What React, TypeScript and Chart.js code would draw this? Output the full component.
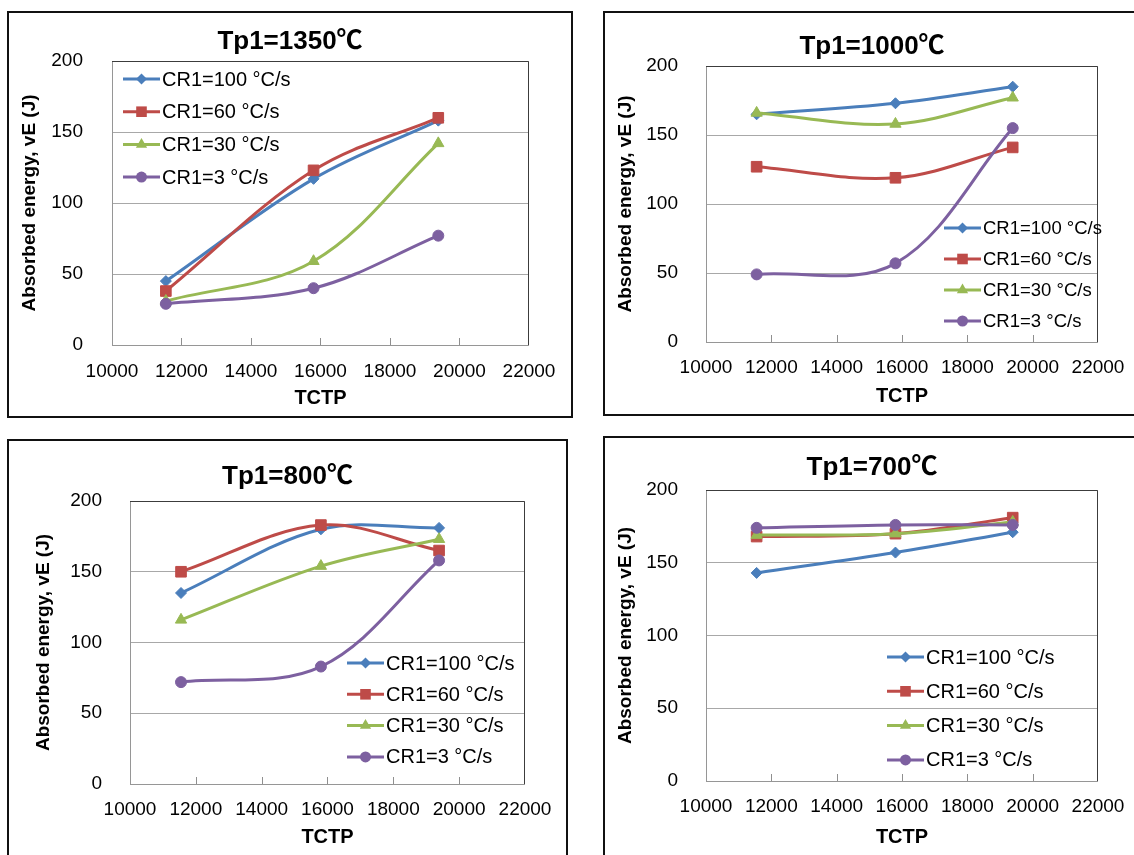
import React, { useEffect, useRef } from 'react';
import { Chart, registerables } from 'chart.js';

Chart.register(...registerables);

const FONT = "'Liberation Sans', Arial, 'Noto Sans CJK SC', sans-serif";

// ---- data ----
const TCTP = [11550, 15800, 19390];
const SERIES_LABELS = ['CR1=100 °C/s', 'CR1=60 °C/s', 'CR1=30 °C/s', 'CR1=3 °C/s'];
const X_MIN = 10000;
const X_MAX = 22000;
const X_STEP = 2000;
const Y_MIN = 0;
const Y_MAX = 200;
const Y_STEP = 50;

const TITLE_1350 = 'Tp1=1350℃';
const V1350_CR100 = [45, 117, 158];
const V1350_CR60 = [38, 123, 160];
const V1350_CR30 = [31, 59, 142];
const V1350_CR3 = [29, 40, 77];

const TITLE_1000 = 'Tp1=1000℃';
const V1000_CR100 = [165, 173, 185];
const V1000_CR60 = [127, 119, 141];
const V1000_CR30 = [166, 158, 177];
const V1000_CR3 = [49, 57, 155];

const TITLE_800 = 'Tp1=800℃';
const V800_CR100 = [135, 180, 181];
const V800_CR60 = [150, 183, 165];
const V800_CR30 = [116, 154, 173];
const V800_CR3 = [72, 83, 158];

const TITLE_700 = 'Tp1=700℃';
const V700_CR100 = [143, 157, 171];
const V700_CR60 = [168, 170, 181];
const V700_CR30 = [169, 170, 178];
const V700_CR3 = [174, 176, 176];

const Y_TITLE = 'Absorbed energy, vE (J)';
const X_TITLE = 'TCTP';

// ---- styles ----
const COLORS = ['#4A7EBB', '#BE4B48', '#98B954', '#7D60A0'];
const POINT_STYLES = ['rectRot', 'rect', 'triangle', 'circle'];
const POINT_RADII = [5.5, 7.5, 6.5, 5.5];

function drawMarker(ctx: CanvasRenderingContext2D, style: string, x: number, y: number, r: number, color: string) {
  ctx.save();
  ctx.fillStyle = color;
  ctx.beginPath();
  if (style === 'rectRot') {
    ctx.moveTo(x, y - r);
    ctx.lineTo(x + r, y);
    ctx.lineTo(x, y + r);
    ctx.lineTo(x - r, y);
    ctx.closePath();
  } else if (style === 'rect') {
    const s = r * Math.SQRT1_2;
    ctx.rect(x - s, y - s, 2 * s, 2 * s);
  } else if (style === 'triangle') {
    ctx.moveTo(x, y - r);
    ctx.lineTo(x + 0.866 * r, y + 0.5 * r);
    ctx.lineTo(x - 0.866 * r, y + 0.5 * r);
    ctx.closePath();
  } else {
    ctx.arc(x, y, r, 0, Math.PI * 2);
  }
  ctx.fill();
  ctx.restore();
}

type Layout = {
  box: { left: number; top: number; w: number; h: number };
  yW: number;
  rW: number;
  xH: number;
  titlePad: { top: number; bottom: number };
  yTitlePad: number;
  yTickPad: number;
  xTickPad: number;
  xTitlePad: number;
  legend: { dx: number; dy: number; step: number; size: number };
};

type PanelCfg = { title: string; series: number[][]; layout: Layout };

const PANELS: PanelCfg[] = [
  {
    title: TITLE_1350,
    series: [V1350_CR100, V1350_CR60, V1350_CR30, V1350_CR3],
    layout: {
      box: { left: 7, top: 11, w: 566, h: 407 },
      yW: 103, rW: 41, xH: 71,
      titlePad: { top: 13.4, bottom: 3.4 },
      yTitlePad: 9.6, yTickPad: 29, xTickPad: 15.6, xTitlePad: 6,
      legend: { dx: 11, dy: 18, step: 32.7, size: 20 },
    },
  },
  {
    title: TITLE_1000,
    series: [V1000_CR100, V1000_CR60, V1000_CR30, V1000_CR3],
    layout: {
      box: { left: 603, top: 11, w: 538, h: 405 },
      yW: 101, rW: 37, xH: 72,
      titlePad: { top: 18.4, bottom: 3.4 },
      yTitlePad: 9.6, yTickPad: 28, xTickPad: 14.6, xTitlePad: 6,
      legend: { dx: 238, dy: 162, step: 31, size: 18.5 },
    },
  },
  {
    title: TITLE_800,
    series: [V800_CR100, V800_CR60, V800_CR30, V800_CR3],
    layout: {
      box: { left: 7, top: 439, w: 561, h: 421 },
      yW: 121, rW: 38, xH: 74,
      titlePad: { top: 20.4, bottom: 8.4 },
      yTitlePad: 23.6, yTickPad: 28, xTickPad: 14.6, xTitlePad: 9,
      legend: { dx: 217, dy: 162, step: 31.3, size: 20 },
    },
  },
  {
    title: TITLE_700,
    series: [V700_CR100, V700_CR60, V700_CR30, V700_CR3],
    layout: {
      box: { left: 603, top: 436, w: 538, h: 424 },
      yW: 101, rW: 37, xH: 77,
      titlePad: { top: 14.4, bottom: 6.4 },
      yTitlePad: 9.6, yTickPad: 28, xTickPad: 14.6, xTitlePad: 9,
      legend: { dx: 181, dy: 167, step: 34.3, size: 20 },
    },
  },
];

function Panel({ cfg }: { cfg: PanelCfg }) {
  const ref = useRef<HTMLCanvasElement>(null);
  const L = cfg.layout;
  const cw = L.box.w - 4;
  const ch = L.box.h - 4;

  useEffect(() => {
    const frame = {
      id: 'frame',
      beforeDatasetsDraw(chart: any) {
        const { ctx, chartArea: a, scales } = chart;
        const x = scales.x;
        ctx.save();
        ctx.lineWidth = 1;
        ctx.strokeStyle = '#8f8f8f';
        x.ticks.forEach((t: any) => {
          if (t.value <= X_MIN || t.value >= X_MAX) return;
          const px = Math.round(x.getPixelForValue(t.value)) + 0.5;
          ctx.beginPath();
          ctx.moveTo(px, a.bottom);
          ctx.lineTo(px, a.bottom - 7);
          ctx.stroke();
        });
        ctx.strokeStyle = '#3c3c3c';
        const top = Math.round(a.top) + 0.5;
        const right = Math.round(a.right) - 0.5;
        ctx.beginPath();
        ctx.moveTo(a.left, top);
        ctx.lineTo(right, top);
        ctx.lineTo(right, a.bottom);
        ctx.stroke();
        ctx.restore();
      },
    };
    const legend = {
      id: 'insideLegend',
      afterDatasetsDraw(chart: any) {
        const { ctx, chartArea: a } = chart;
        const lg = L.legend;
        ctx.save();
        ctx.font = `${lg.size}px ${FONT}`;
        ctx.textBaseline = 'middle';
        ctx.textAlign = 'left';
        ctx.fillStyle = '#000';
        chart.data.datasets.forEach((ds: any, i: number) => {
          const y = a.top + lg.dy + i * lg.step;
          const x0 = a.left + lg.dx;
          ctx.strokeStyle = ds.borderColor;
          ctx.lineWidth = 3;
          ctx.beginPath();
          ctx.moveTo(x0, y);
          ctx.lineTo(x0 + 37, y);
          ctx.stroke();
          drawMarker(ctx, ds.pointStyle, x0 + 18.5, y, ds.pointRadius, ds.borderColor);
          ctx.fillText(ds.label, x0 + 39, y + 1);
        });
        ctx.restore();
      },
    };

    const chart = new Chart(ref.current!, {
      type: 'line',
      data: {
        datasets: cfg.series.map((vals, i) => ({
          label: SERIES_LABELS[i],
          data: TCTP.map((x, j) => ({ x, y: vals[j] })),
          borderColor: COLORS[i],
          backgroundColor: COLORS[i],
          pointBackgroundColor: COLORS[i],
          pointBorderColor: COLORS[i],
          pointBorderWidth: 1,
          pointStyle: POINT_STYLES[i] as any,
          pointRadius: POINT_RADII[i],
          borderWidth: 3,
          tension: 0.35,
          fill: false,
          order: 3 - i,
        })),
      },
      options: {
        animation: false,
        responsive: false,
        events: [],
        layout: { padding: 0 },
        plugins: {
          legend: { display: false },
          tooltip: { enabled: false },
          title: {
            display: true,
            text: cfg.title,
            color: '#000',
            font: { family: FONT, size: 26, weight: 'bold' },
            padding: { top: L.titlePad.top, bottom: L.titlePad.bottom },
          },
        },
        scales: {
          x: {
            type: 'linear',
            position: 'bottom',
            min: X_MIN,
            max: X_MAX,
            ticks: {
              stepSize: X_STEP,
              color: '#000',
              font: { family: FONT, size: 19 },
              padding: L.xTickPad,
              maxRotation: 0,
              autoSkip: false,
              callback: (v: any) => String(v),
            },
            grid: { display: false, drawTicks: false },
            border: { display: true, color: '#969696', width: 1 },
            title: {
              display: true,
              text: X_TITLE,
              color: '#000',
              font: { family: FONT, size: 20, weight: 'bold' },
              padding: { top: 0, bottom: L.xTitlePad },
            },
            afterFit: (s: any) => { s.height = L.xH; },
          },
          y: {
            type: 'linear',
            position: 'left',
            min: Y_MIN,
            max: Y_MAX,
            ticks: {
              stepSize: Y_STEP,
              color: '#000',
              font: { family: FONT, size: 19 },
              padding: L.yTickPad,
            },
            grid: { display: true, drawTicks: false, color: '#a8a8a8', lineWidth: 1 },
            border: { display: true, color: '#969696', width: 1 },
            title: {
              display: true,
              text: Y_TITLE,
              color: '#000',
              font: { family: FONT, size: 19, weight: 'bold' },
              padding: { top: L.yTitlePad, bottom: 0 },
            },
            afterFit: (s: any) => { s.width = L.yW; },
          },
          yR: {
            type: 'linear',
            position: 'right',
            display: true,
            ticks: { display: false },
            grid: { display: false, drawTicks: false },
            border: { display: false },
            afterFit: (s: any) => { s.width = L.rW; },
          },
        },
      } as any,
      plugins: [frame, legend],
    });
    return () => chart.destroy();
  }, []);

  return (
    <div
      style={{
        position: 'absolute',
        left: L.box.left,
        top: L.box.top,
        width: L.box.w,
        height: L.box.h,
        border: '2px solid #111',
        boxSizing: 'border-box',
        background: '#fff',
      }}
    >
      <canvas ref={ref} width={cw} height={ch} style={{ display: 'block' }} />
    </div>
  );
}

export default function App() {
  return (
    <div
      style={{
        position: 'absolute',
        left: 0,
        top: 0,
        width: 1134,
        height: 855,
        overflow: 'hidden',
        background: '#fff',
      }}
    >
      {PANELS.map((p, i) => (
        <Panel key={i} cfg={p} />
      ))}
    </div>
  );
}
